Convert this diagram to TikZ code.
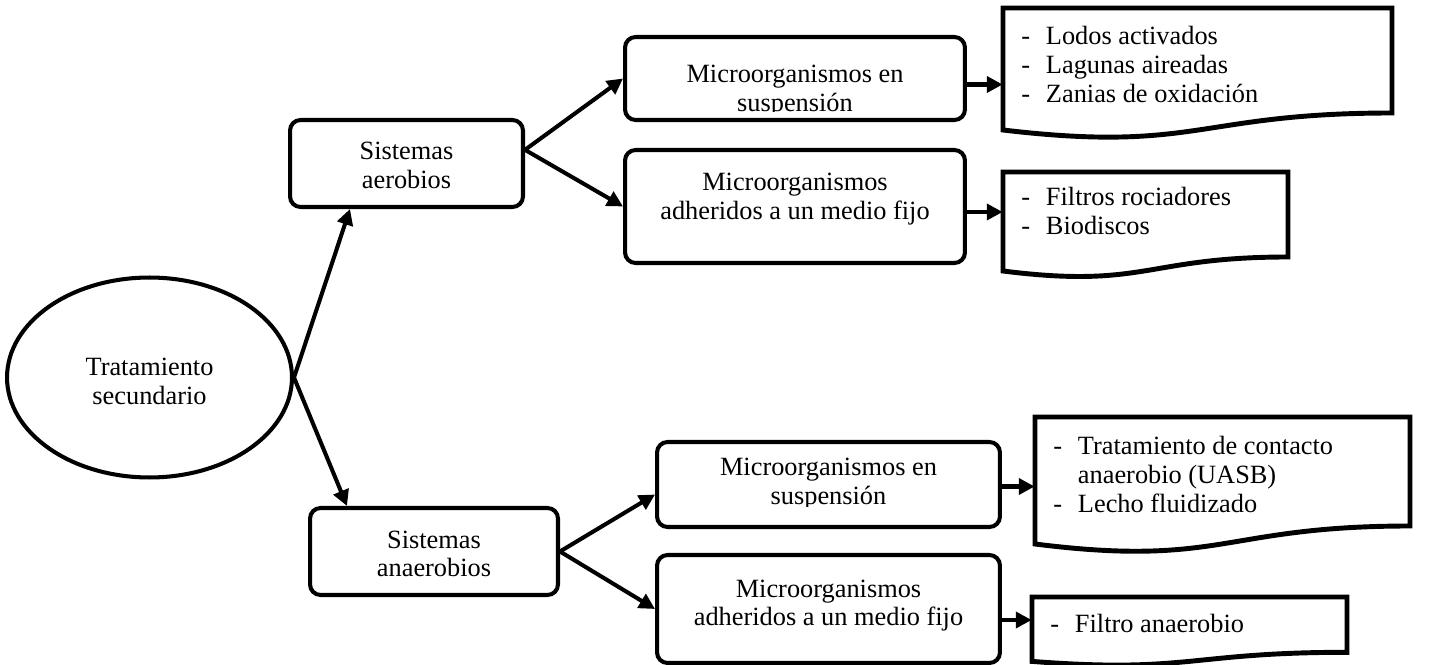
\documentclass[tikz,border=0pt]{standalone}
\usepackage{fontspec}
\setmainfont{Liberation Serif}
\usetikzlibrary{arrows.meta,calc,shapes.geometric}
\begin{document}
\begin{tikzpicture}[x=0.02cm,y=-0.02cm,
  font=\fontsize{15}{16.3}\selectfont,
  box/.style={draw, line width=2.3pt, rounded corners=6pt, inner sep=0pt, rectangle},
  ghost/.style={inner sep=0pt, rectangle},
  arr/.style={line width=2.3pt, -{Triangle[length=9pt,width=9pt]}},
  docline/.style={line width=2.8pt, line join=miter},
  txt/.style={inner sep=0pt, anchor=base},
  ltxt/.style={inner sep=0pt, anchor=base west}]
\useasboundingbox (0,0) rectangle (1434,665);

% main shapes
\node[draw, ellipse, line width=2.3pt, inner sep=0pt, minimum width=5.7cm, minimum height=4cm] (ell) at (149.5,377.5) {};
\node[box, minimum width=4.66cm, minimum height=1.74cm] (aer) at (406.5,163.5) {};
\node[box, minimum width=4.96cm, minimum height=1.74cm] (ana) at (434,551.5) {};
\node[box, minimum width=6.8cm, minimum height=1.66cm] (mo1) at (795,78.5) {};
\node[box, minimum width=6.8cm, minimum height=2.26cm] (mo2) at (795,206.5) {};
\node[box, minimum width=6.86cm, minimum height=1.7cm] (mo3) at (828.5,484.5) {};
\node[box, minimum width=6.86cm, minimum height=2.16cm] (mo4) at (828.5,609) {};

% document shapes
\node[ghost, minimum width=7.78cm, minimum height=2.1cm] (d1) at (1197.5,60.5) {};
\draw[docline] (1003,8) -- (1392,8) -- (1392,113)
  .. controls (1197.5,113) and (1197.5,153) .. (1003,130) -- cycle;
\node[ghost, minimum width=5.7cm, minimum height=1.7cm] (d2) at (1145.5,214.5) {};
\draw[docline] (1003,172) -- (1288,172) -- (1288,257)
  .. controls (1145.5,257) and (1145.5,289) .. (1003,271) -- cycle;
\node[ghost, minimum width=7.5cm, minimum height=2.18cm] (d3) at (1222.5,471.5) {};
\draw[docline] (1035,417) -- (1410,417) -- (1410,526)
  .. controls (1222.5,526) and (1222.5,567.6) .. (1035,544) -- cycle;
\node[ghost, minimum width=6.3cm, minimum height=1.1cm] (d4) at (1189.5,624.5) {};
\draw[docline] (1032,597) -- (1347,597) -- (1347,652.3)
  .. controls (1189.5,652.3) and (1189.5,673.4) .. (1032,661.4) -- cycle;

% texts
\node[txt] (ell-t) at (149.5,376) {\begin{tabular}[t]{@{}c@{}}Tratamiento\\secundario\end{tabular}};
\node[txt] (aer-t) at (406.5,160) {\begin{tabular}[t]{@{}c@{}}Sistemas\\aerobios\end{tabular}};
\node[txt] (ana-t) at (434,548) {\begin{tabular}[t]{@{}c@{}}Sistemas\\anaerobios\end{tabular}};
\begin{scope}
  \clip (628,40) rectangle (962,112);
  \node[txt] (mo1-t) at (795,83) {\begin{tabular}[t]{@{}c@{}}Microorganismos en\\suspensión\end{tabular}};
\end{scope}
\node[txt] (mo2-t) at (795,191) {\begin{tabular}[t]{@{}c@{}}Microorganismos\\adheridos a un medio fijo\end{tabular}};
\begin{scope}
  \clip (660,445) rectangle (997,507);
  \node[txt] (mo3-t) at (828.5,476) {\begin{tabular}[t]{@{}c@{}}Microorganismos en\\suspensión\end{tabular}};
\end{scope}
\node[txt] (mo4-t) at (828.5,597) {\begin{tabular}[t]{@{}c@{}}Microorganismos\\adheridos a un medio fijo\end{tabular}};

\begin{scope}
  \clip (1006,11) rectangle (1389,107);
  \node[ltxt] (d1-t) at (1021,45) {\begin{tabular}[t]{@{}l@{\hspace{9pt}}l@{}}-&Lodos activados\\-&Lagunas aireadas\\-&Zanias de oxidación\end{tabular}};
\end{scope}
\node[ltxt] (d2-t) at (1021,206) {\begin{tabular}[t]{@{}l@{\hspace{9pt}}l@{}}-&Filtros rociadores\\-&Biodiscos\end{tabular}};
\node[ltxt] (d3-t) at (1053,455) {\begin{tabular}[t]{@{}l@{\hspace{9pt}}l@{}}-&Tratamiento de contacto\\&anaerobio (UASB)\\-&Lecho fluidizado\end{tabular}};
\node[ltxt] (d4-t) at (1050,632) {\begin{tabular}[t]{@{}l@{\hspace{9pt}}l@{}}-&Filtro anaerobio\end{tabular}};

% connectors
\draw[arr] (ell.east) -- ($(aer.south west)+(62,0)$);
\draw[arr] (ell.east) -- ($(ana.north west)+(39,0)$);
\coordinate (as) at ($(aer.north east)!0.35!(aer.south east)$);
\draw[arr] (as) -- (mo1.west);
\draw[arr] (as) -- (mo2.west);
\draw[arr] (ana.east) -- ($(mo3.west)+(0,10)$);
\draw[arr] (ana.east) -- (mo4.west);
\draw[arr] ($(mo1.east)+(0,6)$) coordinate (p1) -- (p1 -| d1.west);
\draw[arr] ($(mo2.east)+(0,5.5)$) coordinate (p2) -- (p2 -| d2.west);
\draw[arr] ($(mo3.east)+(0,2)$) coordinate (p3) -- (p3 -| d3.west);
\draw[arr] ($(mo4.east)+(0,11)$) coordinate (p4) -- (p4 -| d4.west);
\end{tikzpicture}
\end{document}
